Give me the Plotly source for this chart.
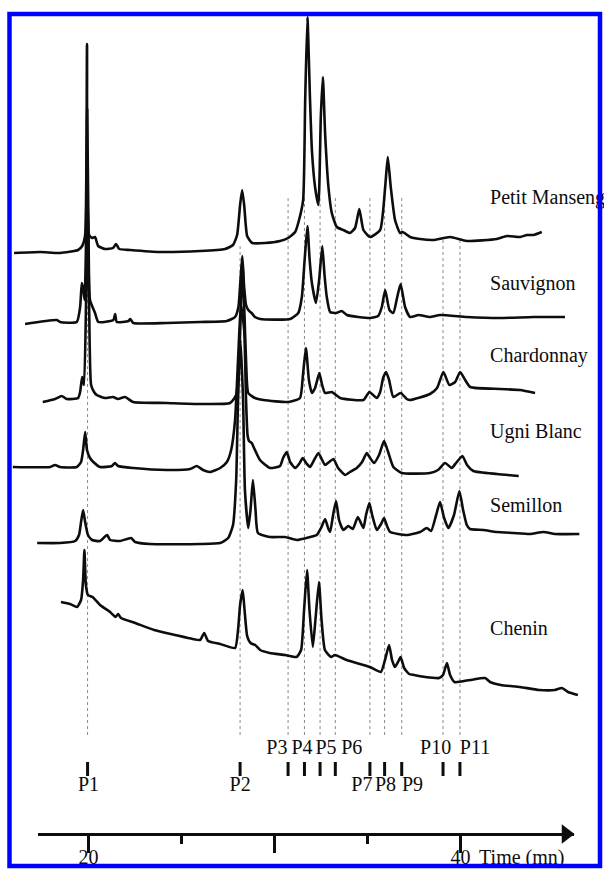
import plotly.graph_objects as go

# ---------------- data (retention time in min, detector signal in a.u.) ----------------
wines = ["Petit Manseng", "Sauvignon", "Chardonnay", "Ugni Blanc", "Semillon", "Chenin"]

pm_time = [16.00, 17.40, 18.47, 19.44, 19.66, 19.82, 19.92, 20.03, 20.19, 20.35, 20.52, 20.89,
           21.32, 21.48, 21.65, 22.24, 23.85, 26.00, 27.34, 27.77, 27.99, 28.15, 28.26, 28.37,
           28.53, 28.80, 29.49, 30.30, 30.73, 31.11, 31.32, 31.54, 31.65, 31.77, 31.91, 32.01,
           32.18, 32.36, 32.49, 32.60, 32.72, 32.90, 33.08, 33.35, 33.70, 34.06, 34.33, 34.56,
           34.78, 35.14, 35.68, 35.95, 36.09, 36.25, 36.48, 36.75, 36.89, 37.29, 37.83, 38.53,
           39.44, 40.34, 41.95, 42.49, 43.21, 43.57, 43.92, 44.37]
pm_signal = [-13, -12, -13, -10, -6, 5, 196, 5, 2, 3, -6, -9,
             -8, -4, -9, -10, -12, -11, -9, -5, 5, 35, 50, 35,
             4, -3, -3, -1, 2, 8, 20, 40, 140, 223, 140, 90,
             53, 35, 123, 163, 107, 53, 27, 13, 10, 7, 12, 31,
             10, 3, 10, 53, 83, 53, 20, 7, 8, 3, 1, 0,
             3, -1, 1, 4, 3, 5, 5, 8]

sa_time = [16.59, 18.30, 18.47, 19.37, 19.55, 19.64, 19.71, 19.79, 19.86, 19.93, 20.01, 20.08,
           20.35, 20.53, 21.34, 21.43, 21.52, 22.15, 22.24, 22.41, 24.21, 26.00, 27.43, 27.88,
           28.06, 28.17, 28.27, 28.36, 28.47, 28.59, 28.77, 28.95, 29.23, 30.84, 31.28, 31.47,
           31.62, 31.77, 31.89, 32.01, 32.23, 32.40, 32.57, 32.69, 32.81, 32.99, 33.31, 33.62,
           33.89, 35.14, 35.57, 35.77, 35.95, 36.18, 36.39, 36.60, 36.78, 37.02, 37.29, 37.74,
           38.36, 38.90, 40.34, 42.13, 43.92, 45.62]
sa_signal = [-4, 0, -2, -2, 13, 37, 32, 20, 70, 210, 70, 20,
             7, -2, 0, 6, -2, -1, 1, -3, -3, -2, -1, 3,
             13, 40, 64, 35, 15, 10, 7, 3, 1, 1, 7, 23,
             60, 94, 60, 37, 17, 40, 74, 45, 23, 8, 7, 9,
             5, 2, 4, 13, 30, 10, 7, 23, 36, 13, 3, 5,
             3, 5, 3, 2, 3, 3]

ch_time = [17.54, 18.20, 18.56, 18.83, 19.44, 19.55, 19.66, 19.76, 19.87, 19.95, 20.03, 20.14,
           20.30, 20.44, 20.89, 21.32, 21.59, 21.97, 22.40, 24.21, 26.00, 27.61, 27.94, 28.10,
           28.28, 28.47, 28.59, 28.95, 29.40, 30.74, 31.37, 31.53, 31.69, 31.85, 32.01, 32.18,
           32.41, 32.56, 32.72, 33.08, 33.53, 34.78, 35.10, 35.50, 35.68, 35.84, 36.00, 36.16,
           36.39, 36.78, 37.11, 37.29, 38.36, 38.74, 39.08, 39.40, 39.71, 39.98, 40.25, 40.52,
           42.13, 43.20, 44.01]
ch_signal = [-2, 1, 4, 1, 2, 8, 23, 15, 100, 203, 100, 15,
             8, 5, 2, 3, 1, 3, -2, -3, -4, -3, 5, 40,
             135, 40, 7, 2, 0, -2, 2, 25, 52, 20, 7, 12,
             27, 15, 7, 8, 2, 0, 8, 2, 8, 22, 28, 20,
             3, 7, 1, 0, 6, 12, 28, 15, 18, 28, 20, 13,
             11, 10, 7]

ub_time = [15.93, 17.94, 18.20, 18.47, 19.37, 19.60, 19.71, 19.82, 19.92, 20.08, 20.26, 20.62,
           21.26, 21.42, 21.59, 22.41, 24.21, 25.46, 25.82, 26.16, 26.54, 27.08, 27.44, 27.67,
           27.88, 28.04, 28.20, 28.37, 28.47, 28.55, 28.63, 28.78, 28.90, 29.22, 29.76, 30.30,
           30.46, 30.66, 30.84, 31.11, 31.32, 31.52, 31.70, 31.91, 32.13, 32.36, 32.56, 32.72,
           32.94, 33.17, 33.42, 33.80, 34.06, 34.42, 34.71, 34.96, 35.14, 35.35, 35.62, 35.89,
           36.11, 36.39, 36.84, 38.36, 38.79, 39.17, 39.53, 39.76, 40.10, 40.35, 40.69, 41.96,
           43.13]
ub_signal = [3, 3, 5, 3, 3, 8, 20, 38, 20, 12, 8, 3,
             4, 7, 4, 2, 0, 1, 4, 0, -2, 2, 8, 20,
             50, 110, 165, 140, 70, 35, 29, 27, 22, 10, 2, 4,
             12, 18, 8, 2, 6, 12, 7, 3, 10, 17, 10, 5,
             8, 11, 2, -5, -2, 2, 8, 17, 12, 7, 15, 29,
             18, 3, -3, -3, 0, 7, 2, 7, 14, 5, -1, -4,
             -6]

se_time = [17.24, 18.47, 19.28, 19.49, 19.60, 19.71, 19.82, 19.97, 20.19, 20.62, 21.00, 21.16,
           21.70, 22.29, 22.51, 23.31, 26.00, 27.08, 27.51, 27.77, 27.94, 28.04, 28.17, 28.31,
           28.41, 28.59, 28.71, 28.84, 28.98, 29.11, 29.76, 30.56, 31.20, 31.91, 32.27, 32.50,
           32.72, 32.88, 32.99, 33.15, 33.31, 33.47, 33.70, 33.97, 34.21, 34.48, 34.78, 34.92,
           35.10, 35.25, 35.50, 35.73, 35.89, 36.05, 36.22, 37.11, 37.83, 38.19, 38.42, 38.69,
           38.90, 39.12, 39.35, 39.65, 39.94, 40.14, 40.34, 40.51, 41.23, 41.95, 42.85, 43.74,
           44.46, 45.08, 46.39]
se_signal = [-3, -3, -1, 5, 18, 30, 18, 5, 0, -1, 5, 0,
             -1, 2, -2, -4, -4, -3, 2, 15, 60, 140, 200, 140,
             50, 12, 30, 60, 30, 7, 3, 3, 0, 3, 5, 12,
             21, 12, 8, 25, 39, 20, 10, 14, 11, 23, 12, 25,
             37, 25, 10, 16, 22, 14, 8, 5, 8, 12, 9, 25,
             38, 22, 12, 25, 49, 30, 15, 11, 10, 8, 7, 6,
             8, 6, 6]

cn_time = [18.52, 19.01, 19.39, 19.60, 19.71, 19.78, 19.86, 19.97, 20.22, 20.62, 21.16, 21.46,
           21.59, 21.75, 22.51, 23.53, 24.66, 25.60, 26.00, 26.22, 26.43, 27.08, 27.88, 28.04,
           28.15, 28.29, 28.39, 28.53, 28.71, 28.96, 29.23, 29.74, 30.57, 31.19, 31.43, 31.59,
           31.75, 31.88, 32.06, 32.20, 32.39, 32.53, 32.71, 33.04, 33.25, 33.88, 34.59, 35.13,
           35.72, 35.94, 36.16, 36.32, 36.47, 36.64, 36.78, 36.97, 37.24, 37.51, 38.10, 38.85,
           39.06, 39.27, 39.44, 39.68, 40.51, 41.32, 41.59, 42.17, 43.20, 44.22, 45.08, 45.45,
           45.78, 46.31]
cn_signal = [48, 46, 43, 50, 70, 100, 65, 55, 53, 45, 38, 33,
             36, 32, 27, 20, 15, 11, 10, 17, 9, 6, 2, 20,
             45, 60, 40, 14, 7, 5, 0, -3, -5, -7, 0, 40,
             80, 40, 3, 30, 68, 30, 0, -7, -5, -10, -14, -17,
             -22, -10, 5, -10, -17, -12, -7, -18, -24, -25, -27, -28,
             -25, -13, -25, -32, -30, -28, -32, -35, -37, -40, -40, -38,
             -42, -45]

peak_names = ["P1", "P2", "P3", "P4", "P5", "P6", "P7", "P8", "P9", "P10", "P11"]
peak_times = [19.95, 28.15, 30.73, 31.61, 32.45, 33.27, 35.13, 35.92, 36.84, 39.06, 39.97]

axis_major = [20, 30, 40]
axis_major_text = ["20", "", "40"]
axis_minor = [25, 35]
axis_title = "Time (mn)"

# ---------------- layout constants (positions / styles) ----------------
W, H = 604, 869
PX_PER_MIN = 18.6
T_AT_LEFT = 20 - 88.5 / PX_PER_MIN
offsets = [629, 549, 469, 399, 329, 219]
label_y = [670, 584, 512, 436, 362, 239]
label_x = 41.59
dash_top = [624, 624, 674, 674, 674, 674, 674, 674, 674, 629, 629]
dash_bottom = 134
tick_y = (93, 107)
label_upper = [False, False, True, True, True, True, False, False, False, True, True]
label_tx = [20.0, 28.15, 30.13, 31.48, 32.77, 34.15, 34.70, 35.97, 37.42, 38.66, 40.78]
FONT = "Liberation Serif"
INK = "#0d0d0d"
series = [(pm_time, pm_signal), (sa_time, sa_signal), (ch_time, ch_signal),
          (ub_time, ub_signal), (se_time, se_signal), (cn_time, cn_signal)]

fig = go.Figure()

# dotted guide lines
for t, top in zip(peak_times, dash_top):
    fig.add_shape(type="line", xref="x", yref="y", x0=t, x1=t, y0=dash_bottom, y1=top,
                  line=dict(color="#8a8a8a", width=1, dash="dot"), layer="below")

# chromatograms
for name, (tt, ss), off in zip(wines, series, offsets):
    fig.add_trace(go.Scatter(x=tt, y=[off + s for s in ss], mode="lines", name=name,
                             line=dict(color=INK, width=2.6, shape="spline", smoothing=0.5),
                             hoverinfo="skip", showlegend=False))

# wine labels
fig.add_trace(go.Scatter(x=[label_x] * len(wines), y=label_y, mode="text", text=wines,
                         textposition="middle right", cliponaxis=False,
                         textfont=dict(family=FONT, size=20, color=INK),
                         hoverinfo="skip", showlegend=False))

# peak marker ticks
tx, ty = [], []
for t in peak_times:
    tx += [t, t, None]
    ty += [tick_y[0], tick_y[1], None]
fig.add_trace(go.Scatter(x=tx, y=ty, mode="lines", line=dict(color=INK, width=3),
                         hoverinfo="skip", showlegend=False))

# peak labels
fig.add_trace(go.Scatter(x=label_tx, y=[120 if u else 83 for u in label_upper], mode="text",
                         text=peak_names, textposition="middle center", cliponaxis=False,
                         textfont=dict(family=FONT, size=20, color=INK),
                         hoverinfo="skip", showlegend=False))

# time axis arrow head, tick numbers and title (kept inside the page)
ax_lo = T_AT_LEFT + 38 / PX_PER_MIN
ax_hi = T_AT_LEFT + 574 / PX_PER_MIN
fig.add_trace(go.Scatter(x=[ax_hi - 8 / PX_PER_MIN], y=[35], xaxis="x2", yaxis="y",
                         mode="markers", cliponaxis=False,
                         marker=dict(symbol="triangle-right", size=17, color=INK),
                         hoverinfo="skip", showlegend=False))
num_x = [v for v, s in zip(axis_major, axis_major_text) if s]
num_t = [s for s in axis_major_text if s]
fig.add_trace(go.Scatter(x=num_x, y=[0] * len(num_x), xaxis="x2", yaxis="y", mode="text",
                         text=num_t, textposition="top center", cliponaxis=False,
                         textfont=dict(family=FONT, size=20, color=INK),
                         hoverinfo="skip", showlegend=False))
fig.add_trace(go.Scatter(x=[41.0], y=[0], xaxis="x2", yaxis="y", mode="text",
                         text=[axis_title], textposition="top right", cliponaxis=False,
                         textfont=dict(family=FONT, size=20, color=INK),
                         hoverinfo="skip", showlegend=False))

fig.update_layout(
    width=W, height=H, autosize=False, margin=dict(l=0, r=0, t=0, b=0, pad=0),
    paper_bgcolor="white", plot_bgcolor="rgba(0,0,0,0)", showlegend=False,
    xaxis=dict(visible=False, range=[T_AT_LEFT, T_AT_LEFT + W / PX_PER_MIN], domain=[0, 1],
               fixedrange=True),
    yaxis=dict(visible=False, range=[0, H], domain=[0, 1], fixedrange=True),
    xaxis2=dict(domain=[38 / W, 574 / W], range=[ax_lo, ax_hi], anchor="free",
                position=35 / H, showline=True, linecolor=INK, linewidth=3,
                showgrid=False, zeroline=False, ticks="outside", ticklen=17, tickwidth=3,
                tickcolor=INK, tickmode="array", tickvals=axis_major,
                ticktext=axis_major_text, showticklabels=False,
                minor=dict(ticks="outside", tickmode="array", tickvals=axis_minor, ticklen=8,
                           tickwidth=3, tickcolor=INK, showgrid=False),
                fixedrange=True),
    shapes=list(fig.layout.shapes) + [
        dict(type="rect", xref="paper", yref="paper", x0=9.5 / W, x1=600 / W,
             y0=1 - 866 / H, y1=1 - 14 / H, line=dict(color="#0000ff", width=4.5),
             fillcolor="rgba(0,0,0,0)", layer="above")
    ],
)

fig.write_html("out.html", config={"displayModeBar": False, "staticPlot": True})
